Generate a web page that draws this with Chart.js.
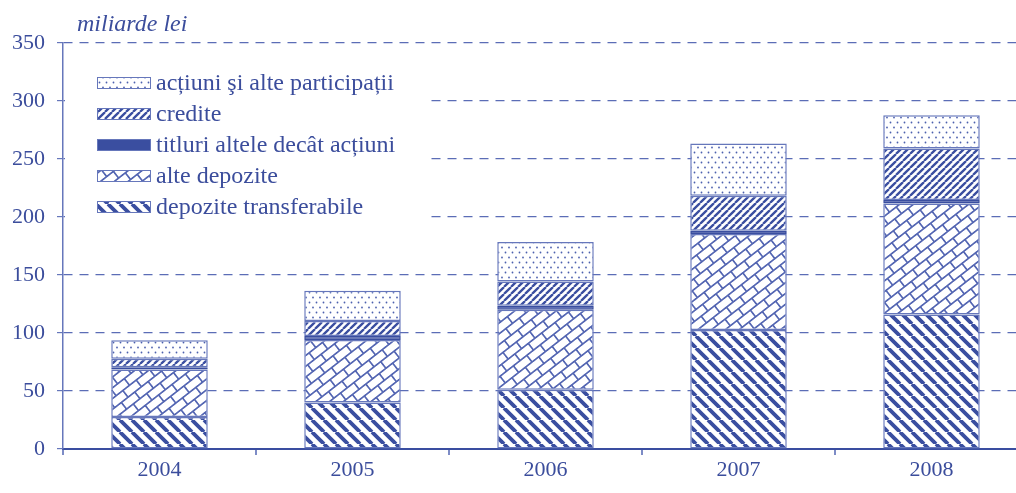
<!DOCTYPE html>
<html>
<head>
<meta charset="utf-8">
<script src="https://cdn.jsdelivr.net/npm/chart.js@4.4.1/dist/chart.umd.min.js"></script>
<style>
  html, body { margin: 0; padding: 0; background: #fff; overflow: hidden; }
  #wrap { width: 1028px; height: 493px; }
</style>
</head>
<body>
<div id="wrap"><canvas id="myChart" width="1028" height="493"></canvas></div>
<script>
// date (miliarde lei)
const years = ['2004', '2005', '2006', '2007', '2008'];
const depoziteTransferabile = [27.6, 40, 51, 102.6, 116];
const alteDepozite = [41, 54, 69, 82.7, 95.7];
const titluri = [1.8, 3.4, 3.5, 2.9, 2.9];
const credite = [7.3, 13, 21, 30.2, 44.5];
const actiuni = [16, 26, 34, 45, 28.7];
const yTicks = [0, 50, 100, 150, 200, 250, 300, 350];

const blue = '#3a4ea0';
const lightBlue = '#6677bb';
const textColor = '#3b4d9c';
const serif = '"Liberation Serif", "Times New Roman", serif';

// modele de hasurare
function makeTile(w, h, draw) {
    const c = document.createElement('canvas');
    c.width = w; c.height = h;
    const g = c.getContext('2d');
    g.fillStyle = '#fff';
    g.fillRect(0, 0, w, h);
    draw(g, w, h);
    return c;
}
const tmp = document.createElement('canvas').getContext('2d');

// depozite transferabile: linii groase "\"
const patDT = tmp.createPattern(makeTile(12, 12, (g, s) => {
    g.strokeStyle = blue; g.lineWidth = 3.8;
    g.beginPath();
    for (let k = -1; k <= 1; k++) { g.moveTo(k * s, 0); g.lineTo(k * s + s, s); }
    g.stroke();
}), 'repeat');

// credite: linii fine "/"
const patCR = tmp.createPattern(makeTile(7, 7, (g, s) => {
    g.strokeStyle = blue; g.lineWidth = 2.3;
    g.beginPath();
    for (let k = -1; k <= 1; k++) { g.moveTo(k * s, s); g.lineTo(k * s + s, 0); }
    g.stroke();
}), 'repeat');

// alte depozite: caramizi rotite
const patAD = tmp.createPattern(makeTile(20, 20, (g) => {
    g.strokeStyle = '#5567b3'; g.lineWidth = 2;
    g.beginPath();
    g.moveTo(0, 1); g.lineTo(20, 1);
    g.moveTo(0, 11); g.lineTo(20, 11);
    g.moveTo(1, 0); g.lineTo(1, 10);
    g.moveTo(11, 10); g.lineTo(11, 20);
    g.stroke();
}), 'repeat');
patAD.setTransform(new DOMMatrix().rotate(-38).scale(0.85));

// actiuni: puncte
const patAC = tmp.createPattern(makeTile(7, 10, (g) => {
    g.fillStyle = '#4c60ae';
    g.beginPath(); g.arc(1.5, 2.5, 0.9, 0, Math.PI * 2); g.fill();
    g.beginPath(); g.arc(5, 7.5, 0.9, 0, Math.PI * 2); g.fill();
}), 'repeat');

// legenda in interiorul graficului, peste grila
const legendPlugin = {
    id: 'insideLegend',
    beforeDatasetsDraw(chart) {
        const ctx = chart.ctx;
        const area = chart.chartArea;
        ctx.save();
        ctx.fillStyle = '#fff';
        ctx.fillRect(area.left + 2, 52, 425 - area.left, 176);
        const ds = chart.data.datasets.slice().reverse();
        ctx.font = '24px ' + serif;
        ctx.textBaseline = 'middle';
        ds.forEach((d, i) => {
            const cy = 83 + i * 31;
            ctx.fillStyle = d.backgroundColor;
            ctx.fillRect(97, cy - 6, 54, 12);
            ctx.strokeStyle = lightBlue;
            ctx.lineWidth = 1;
            ctx.strokeRect(97.5, cy - 5.5, 53, 11);
            ctx.fillStyle = textColor;
            ctx.fillText(d.label, 156, cy + 1);
        });
        ctx.restore();
    },
    afterDraw(chart) {
        const ctx = chart.ctx;
        ctx.save();
        ctx.font = 'italic 24px ' + serif;
        ctx.fillStyle = textColor;
        ctx.textBaseline = 'alphabetic';
        ctx.fillText('miliarde lei', 77, 31);
        ctx.restore();
    }
};

function ds(label, data, fill, border) {
    return {
        label: label,
        data: data,
        backgroundColor: fill,
        borderColor: border || lightBlue,
        borderWidth: 1.5,
        borderSkipped: false,
        barPercentage: 0.5,
        categoryPercentage: 1
    };
}

const ctx = document.getElementById('myChart').getContext('2d');
const myChart = new Chart(ctx, {
    type: 'bar',
    data: {
        labels: years,
        datasets: [
            ds('depozite transferabile', depoziteTransferabile, patDT),
            ds('alte depozite', alteDepozite, patAD),
            ds('titluri altele decât acțiuni', titluri, blue, blue),
            ds('credite', credite, patCR),
            ds('acțiuni şi alte participații', actiuni, patAC)
        ]
    },
    options: {
        responsive: false,
        animation: false,
        devicePixelRatio: 1,
        layout: { padding: { top: 43, right: 0, left: 0, bottom: 0 } },
        plugins: { legend: { display: false }, tooltip: { enabled: false } },
        scales: {
            x: {
                stacked: true,
                afterFit: (s) => { s.height = 44; },
                grid: { display: true, offset: true, drawOnChartArea: false, tickLength: 6, color: '#7d8cc6', lineWidth: 2 },
                border: { display: true, color: blue, width: 2 },
                ticks: { color: textColor, padding: 2, font: { family: serif, size: 22 } }
            },
            y: {
                stacked: true,
                min: 0,
                max: 350,
                afterFit: (s) => { s.width = 63; },
                afterBuildTicks: (s) => { s.ticks = yTicks.map(v => ({ value: v })); },
                grid: { color: '#5b6db6', lineWidth: 1.2, tickLength: 6, tickBorderDash: [], tickColor: lightBlue },
                border: { display: true, color: lightBlue, width: 1.5, dash: [9, 7] },
                ticks: { color: textColor, padding: 12, font: { family: serif, size: 22 } }
            }
        }
    },
    plugins: [legendPlugin]
});
</script>
</body>
</html>
